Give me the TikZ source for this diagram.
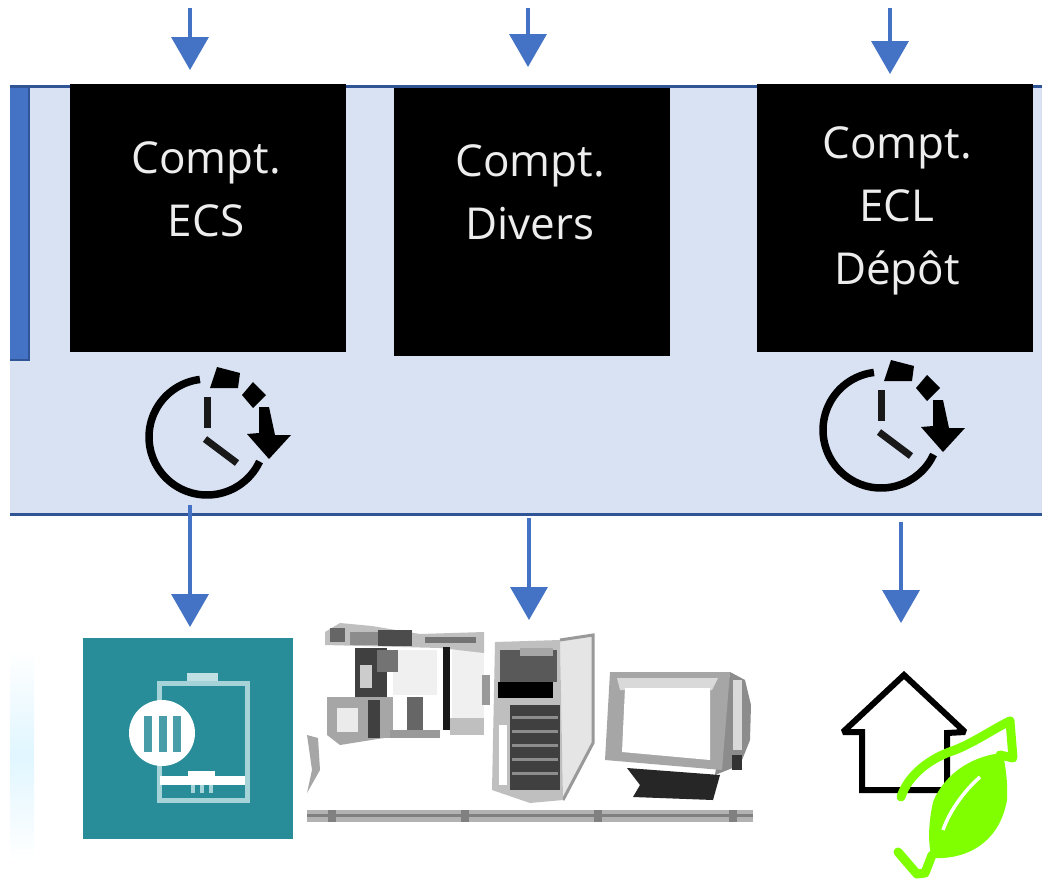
\documentclass[tikz,border=0pt]{standalone}
\usepackage{fontspec}
\setmainfont{Open Sans}
\usetikzlibrary{arrows.meta}
\definecolor{bandfill}{HTML}{D9E2F3}
\definecolor{bandline}{HTML}{2F5597}
\definecolor{arrowblue}{HTML}{4472C4}
\definecolor{tealbox}{HTML}{288C99}
\definecolor{tealline}{HTML}{A5D3D8}
\definecolor{leafgreen}{HTML}{80FF00}
\tikzset{
  compteur/.style={fill=black,minimum width=276pt,minimum height=268pt,inner sep=0pt,outer sep=0pt,anchor=north west},
  compttext/.style={text=white,inner sep=0pt,font=\fontsize{44}{63}\selectfont,align=center,text opacity=0.93},
  flow/.style={draw=arrowblue,line width=3.5pt,-{Triangle[width=37pt,length=33pt]}},
  pics/clockicon/.style={code={
    \draw[black,line width=7.5pt] plot[smooth,domain=97:335,samples=40] ({58*cos(\x)},{-58*sin(\x)});
    \draw[line width=7pt,black!90] (0,-40) -- (0,-9);
    \draw[line width=7pt,black!90] (-2,2) -- (30,26);
    \fill[black] (10,-70) -- (33,-64) -- (31,-49) -- (3,-49) -- cycle;
    \fill[black] (46,-55) -- (59,-42) -- (46,-29) -- (35,-42) -- cycle;
    \fill[black] (52,-30) -- (62,-30) -- (68,-2) -- (84,-2) -- (62,22) -- (40,-3) -- (52,-4) -- cycle;
  }}
}
\begin{document}
\begin{tikzpicture}[x=1pt,y=-1pt]
\useasboundingbox (0,0) rectangle (1042,879);
\fill[white] (0,0) rectangle (1042,879);
% band
\fill[bandfill] (10,86) rectangle (1042,514);
\draw[bandline,line width=3pt] (10,86) -- (1042,86);
\draw[bandline,line width=3pt] (10,514) -- (1042,514);
\fill[arrowblue] (10,88) rectangle (30,360);
\draw[bandline,line width=2pt] (29,88) -- (29,360) -- (10,360);
% counters
\node[compteur] (ecs) at (70,84) {};
\node[compteur] (divers) at (394,88) {};
\node[compteur] (ecl) at (757,84) {};
\node[compttext] (ecstext) at (206,189) {Compt.\\ECS};
\node[compttext] (diverstext) at (530,192) {Compt.\\Divers};
\node[compttext] (ecltext) at (897,211) {Compt.\\ECL\\Dépôt};
% clocks
\pic at (207,437) {clockicon};
\pic at (881,430) {clockicon};
% left glow
\shade[top color=white,bottom color=white,middle color=blue!30!cyan!12!white,draw=none] (10,650) rectangle (34,860);
% boiler tile
\node[fill=tealbox,minimum width=210pt,minimum height=201pt,inner sep=0pt,outer sep=0pt,anchor=north west] (boiler) at (83,638) {};
\fill[tealline!70!white] (187,673) rectangle (218,682);
\draw[tealline,line width=5pt] (159,683) rectangle (247,800);
\fill[white] (160,776) rectangle (245,785);
\fill[white] (188,771) rectangle (215,778);
\foreach \x in {191,200,209} \fill[tealline] (\x,785) rectangle ++(4,8);
\fill[white] (162,733) circle[radius=33pt];
\foreach \x in {148,163,177} \fill[tealbox!85!white] (\x-4,716) rectangle (\x+4,752);
% office equipment
\node[minimum width=446pt,minimum height=190pt,inner sep=0pt,outer sep=0pt,anchor=north west] (office) at (307,628) {};
\fill[black!30] (307,810) rectangle (753,822);
\fill[black!50] (307,814) rectangle (753,817);
\foreach \x in {332,465,598,733} \fill[black!50] (\x-4,810) rectangle (\x+4,822);
% printer
\fill[black!35] (307,735) -- (318,738) -- (320,770) -- (307,793) -- (312,770) -- cycle;
\fill[black!6] (393,650) rectangle (437,695);
\fill[black!6] (452,650) rectangle (484,735);
\fill[black!25] (325,632) -- (340,623) -- (372,626) -- (420,634) -- (484,632) -- (484,653) -- (440,648) -- (325,645) -- cycle;
\fill[black!60] (330,628) rectangle (345,642);
\fill[black!70] (378,630) rectangle (412,646);
\fill[black!45] (350,632) rectangle (378,645);
\fill[black!55] (425,637) rectangle (476,643);
\fill[black!75] (355,648) rectangle (387,697);
\fill[black!20] (360,665) rectangle (372,688);
\fill[black!55] (377,650) rectangle (398,672);
\fill[black!35] (380,697) rectangle (393,738);
\fill[black!90] (443,647) rectangle (450,730);
\fill[black!35] (327,697) -- (387,697) -- (390,737) -- (340,745) -- (327,735) -- cycle;
\fill[black!8] (337,708) rectangle (358,732);
\fill[black!75] (368,700) rectangle (380,738);
\fill[black!60] (407,697) rectangle (423,733);
\fill[black!40] (390,730) rectangle (440,738);
\fill[black!25] (450,718) rectangle (484,735);
\fill[black!40] (482,675) rectangle (490,705);
% tower
\fill[black!10] (560,640) -- (593,635) -- (593,743) -- (563,800) -- cycle;
\draw[black!40,line width=3pt] (560,640) -- (593,635) -- (593,743) -- (563,800);
\fill[black!25] (495,642) -- (560,640) -- (563,800) -- (530,803) -- (492,790) -- cycle;
\fill[black!65] (500,650) rectangle (557,682);
\fill[black!35] (520,648) rectangle (553,656);
\fill[black] (498,682) rectangle (553,698);
\fill[black!75] (510,705) rectangle (560,790);
\foreach \y in {716,730,744,758,772} \fill[black!45] (512,\y) rectangle (558,\y+3);
\fill[white] (499,725) rectangle (507,785);
% monitor
\fill[black!45] (730,672) -- (745,680) -- (751,705) -- (750,740) -- (740,765) -- (715,775) -- cycle;
\fill[black!15] (733,680) rectangle (742,750);
\fill[black!80] (732,755) rectangle (742,770);
\fill[black!85] (627,768) -- (720,775) -- (713,800) -- (633,797) -- (640,785) -- cycle;
\fill[black!35] (610,672) -- (730,672) -- (722,770) -- (605,760) -- cycle;
\fill[black!15] (617,678) -- (718,678) -- (712,690) -- (620,690) -- cycle;
\fill[white] (625,688) -- (710,688) -- (710,760) -- (622,752) -- cycle;
% house
\node[minimum width=123pt,minimum height=120pt,inner sep=0pt,outer sep=0pt,anchor=north west] (home) at (843,672) {};
\draw[black,line width=6pt,line join=miter,miter limit=2] (843,732) -- (904,675) -- (965,732) -- (947,733) -- (947,790) -- (862,790) -- (862,732) -- cycle;
% leaf
\fill[leafgreen] (1003,753) .. controls (975,755) and (945,772) .. (933,802) .. controls (928,825) and (928,845) .. (932,858) .. controls (970,860) and (1000,840) .. (1007,800) .. controls (1008,785) and (1006,770) .. (1003,753) -- cycle;
\draw[white,line width=3.5pt] (980,777) .. controls (965,790) and (950,810) .. (943,830);
\draw[leafgreen,line width=9pt,line join=round,line cap=round] (901,797) .. controls (908,775) and (930,758) .. (955,750) .. controls (975,742) and (995,728) .. (1010,721) -- (1013,758) -- (1000,755);
\draw[leafgreen,line width=9pt,line join=round,line cap=round] (898,852) -- (917,874) -- (925,873) -- (932,855);
% connectors
\coordinate (t1) at (190,8); \coordinate (t2) at (528,8); \coordinate (t3) at (890,8);
\coordinate (b1) at (190,505); \coordinate (b2) at (529,518); \coordinate (b3) at (901,522);
\draw[flow,shorten >=14pt] (t1) -- (t1 |- ecs.north);
\draw[flow,shorten >=21pt] (t2) -- (t2 |- divers.north);
\draw[flow,shorten >=10pt] (t3) -- (t3 |- ecl.north);
\draw[flow,shorten >=11pt] (b1) -- (b1 |- boiler.north);
\draw[flow,shorten >=8pt] (b2) -- (b2 |- office.north);
\draw[flow,shorten >=49pt] (b3) -- (b3 |- home.north);
\end{tikzpicture}
\end{document}
